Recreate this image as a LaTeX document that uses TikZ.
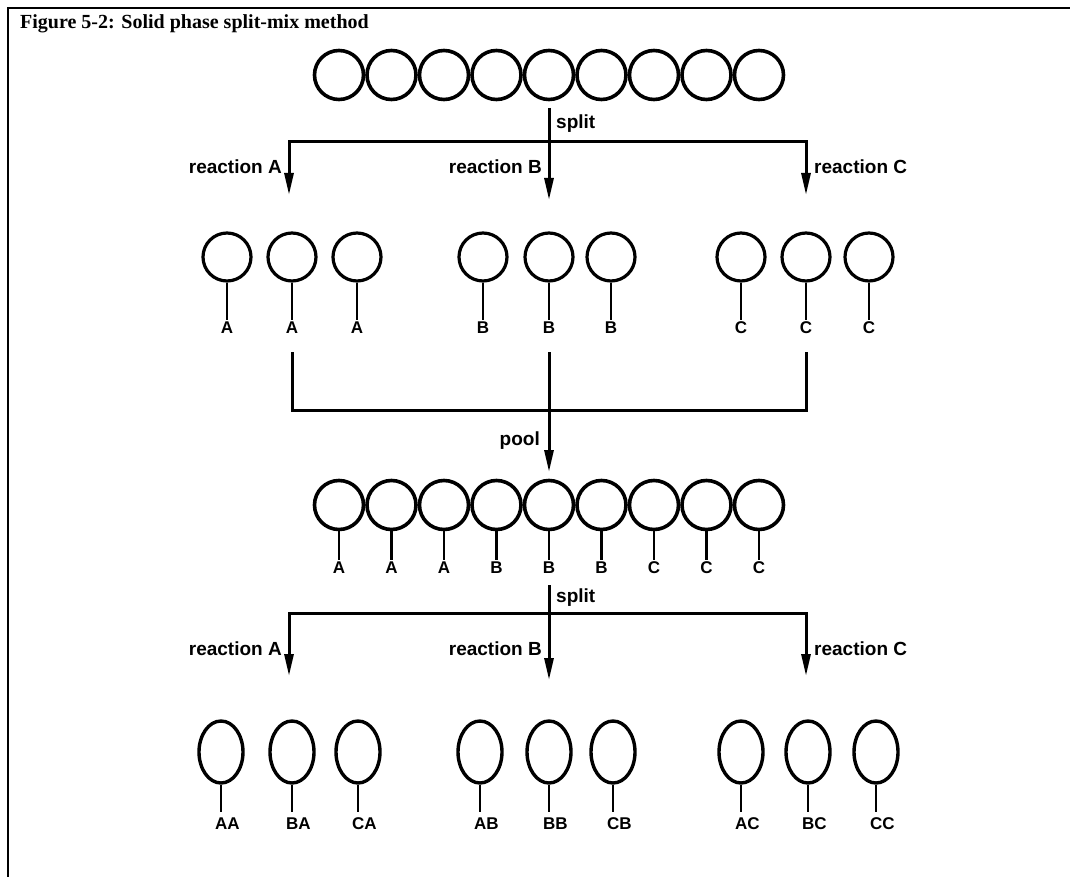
\documentclass[tikz,border=0pt]{standalone}
\usepackage{fontspec}
\setmainfont{Liberation Serif}
\setsansfont{Liberation Sans}
\usetikzlibrary{arrows.meta,shapes.geometric}
\begin{document}
\begin{tikzpicture}[x=1pt,y=-1pt,
  bead/.style={circle,draw,line width=3.6pt,minimum size=49pt,inner sep=0pt},
  sbead/.style={circle,draw,line width=3.2pt,minimum width=46pt,minimum height=48pt,inner sep=0pt},
  obead/.style={ellipse,draw,line width=3.4pt,minimum width=44pt,minimum height=62pt,inner sep=0pt},
  lab/.style={font=\sffamily\bfseries\fontsize{17}{17}\selectfont,inner sep=1pt,anchor=north,text height=12.5pt,text depth=0pt},
  rlab/.style={font=\sffamily\bfseries\fontsize{19}{19}\selectfont,inner sep=1pt},
  stem/.style={line width=2.6pt},
  conn/.style={line width=3pt},
  arr/.style={line width=3pt,-{Triangle[length=22pt,width=9pt]}},
  frame/.style={line width=1.5pt}]
\useasboundingbox (0,0) rectangle (1070,877);
% frame and title
\coordinate (fa) at (8,877);
\coordinate (fb) at (8,8);
\coordinate (fc) at (1070,8);
\draw[frame] (fa) -- (fb) -- (fc);
\node[anchor=base west,inner sep=0pt,font=\bfseries\fontsize{20}{20}\selectfont] (title) at (20,29) {Figure 5-2: Solid phase split-mix method};
% top row
\foreach \i in {1,...,9} {
  \node[bead] (t\i) at ({339+52.5*(\i-1)},75) {};
}
% first split
\coordinate (s1a) at (549,108);
\coordinate (s1j) at (549,142);
\coordinate (s1A) at (289,195);
\coordinate (s1B) at (549,200);
\coordinate (s1C) at (806,195);
\draw[conn] (s1a) -- (s1j);
\draw[arr] (s1j) -| (s1A);
\draw[arr] (s1j) -- (s1B);
\draw[arr] (s1j) -| (s1C);
\node[rlab,anchor=west] (sp1) at (555,124) {split};
\node[rlab,anchor=east] (ra1) at (283,167) {reaction A};
\node[rlab,anchor=east] (rb1) at (543,167) {reaction B};
\node[rlab,anchor=west] (rc1) at (813,167) {reaction C};
% second row
\foreach \x/\l/\n in {227/A/1,292/A/2,357/A/3,483/B/4,549/B/5,611/B/6,741/C/7,806/C/8,869/C/9} {
  \node[sbead] (m\n) at (\x,257) {};
  \node[lab] (ml\n) at (\x,320) {\l};
  \draw[stem] (m\n.south) -- (ml\n.north);
}
% pool
\coordinate (pa) at (292,352);
\coordinate (pb) at (549,352);
\coordinate (pc) at (806,352);
\coordinate (pj) at (549,410);
\coordinate (pt) at (549,472);
\draw[conn] (pa) |- (pj);
\draw[conn] (pc) |- (pj);
\draw[arr] (pb) -- (pt);
\node[rlab,anchor=east] (pool) at (541,441) {pool};
% third row
\foreach \l [count=\i] in {A,A,A,B,B,B,C,C,C} {
  \node[bead] (r\i) at ({339+52.5*(\i-1)},505) {};
  \node[lab] (rl\i) at ({339+52.5*(\i-1)},560) {\l};
  \draw[stem] (r\i.south) -- (rl\i.north);
}
% second split
\coordinate (s2a) at (549,585);
\coordinate (s2j) at (549,613);
\coordinate (s2A) at (289,676);
\coordinate (s2B) at (549,680);
\coordinate (s2C) at (806,676);
\draw[conn] (s2a) -- (s2j);
\draw[arr] (s2j) -| (s2A);
\draw[arr] (s2j) -- (s2B);
\draw[arr] (s2j) -| (s2C);
\node[rlab,anchor=west] (sp2) at (555,598) {split};
\node[rlab,anchor=east] (ra2) at (283,649) {reaction A};
\node[rlab,anchor=east] (rb2) at (543,649) {reaction B};
\node[rlab,anchor=west] (rc2) at (813,649) {reaction C};
% fourth row
\foreach \x/\l/\n in {221/AA/1,292/BA/2,358/CA/3,480/AB/4,549/BB/5,613/CB/6,741/AC/7,808/BC/8,876/CC/9} {
  \node[obead] (b\n) at (\x,752) {};
  \node[lab,anchor=north west] (bl\n) at (\x-7,816) {\l};
  \coordinate (be\n) at (\x,812);
  \draw[stem] (b\n.south) -- (be\n);
}
\end{tikzpicture}
\end{document}
